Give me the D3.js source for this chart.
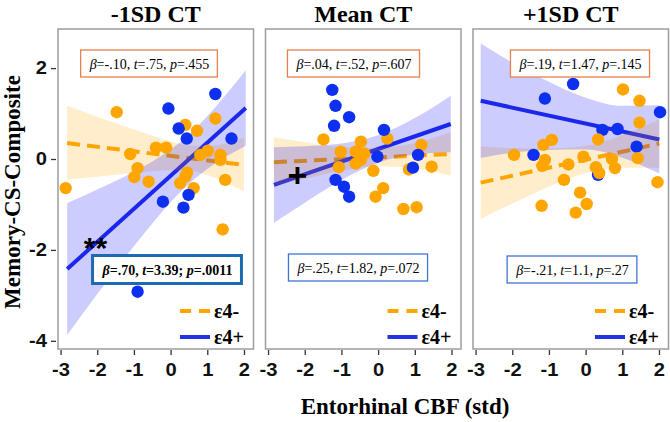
<!DOCTYPE html>
<html><head><meta charset="utf-8">
<script src="https://cdn.jsdelivr.net/npm/d3@7"></script>
<style>body{margin:0;background:#fff}svg{display:block}</style>
</head><body>
<svg id="c" width="670" height="422"></svg>
<script>
// ---------- DATA ----------
const panelTitles = ["-1SD CT", "Mean CT", "+1SD CT"];
const xTicks = [-3, -2, -1, 0, 1, 2];
const yTicks = [-4, -2, 0, 2];
const groups = ["ε4-", "ε4+"];

// points [x, y] per panel
const negPts1 = [[-1.47,1.03],[-2.86,-0.64],[-1.10,0.11],[-0.90,-0.20],[-0.99,-0.40],[-0.60,-0.50],[-0.40,0.25],[-0.12,0.25],[0.40,0.75],[0.72,0.62],[1.22,0.89],[0.81,0.09],[1.01,0.18],[1.36,0.09],[1.36,-0.02],[0.40,-0.39],[0.26,-0.53],[0.63,-0.64],[1.49,-0.46],[1.42,-1.55],[0.45,-0.30]];
const posPts1 = [[1.22,1.43],[-0.06,1.11],[0.22,0.67],[0.44,0.45],[1.66,0.45],[-0.21,-0.94],[0.49,-0.79],[0.35,-1.07],[-0.90,-2.92]];
const negPts2 = [[-1.49,0.43],[-1.02,0.16],[-1.07,-0.18],[-0.47,0.38],[-0.61,0.16],[-0.47,-0.02],[-0.61,-0.10],[0.25,0.45],[-0.13,-0.26],[1.18,0.31],[1.46,-0.17],[0.84,-0.23],[0.14,-0.64],[-0.07,-0.83],[0.69,-1.10],[1.05,-1.06],[-0.38,0.12]];
const posPts2 = [[-1.25,1.52],[-1.16,1.17],[-0.79,0.92],[-1.20,0.73],[0.16,0.64],[-0.02,0.05],[1.09,0.09],[0.95,-0.19],[-1.16,-0.46],[-0.93,-0.61],[-0.79,-0.83]];
const negPts3 = [[1.02,1.53],[1.47,1.28],[1.47,0.80],[0.34,0.43],[-0.92,0.42],[-1.15,0.31],[-1.95,0.09],[-1.11,-0.02],[-1.18,-0.15],[-0.47,-0.12],[-0.06,0.05],[0.28,-0.18],[0.37,-0.31],[0.72,0.00],[0.80,-0.20],[1.42,0.02],[-0.59,-0.46],[1.96,-0.51],[-0.15,-0.74],[0.03,-0.99],[-0.27,-1.18],[-1.20,-1.03]];
const posPts3 = [[-0.34,1.65],[-1.11,1.33],[2.03,1.03],[0.46,0.64],[0.87,0.66],[1.39,0.27],[-1.42,0.09],[0.34,-0.35]];

// fitted lines [[x0,y0],[x1,y1]]
const negLine = [[[-2.82,0.35],[2.0,-0.13]], [[-2.84,-0.07],[1.98,0.11]], [[-2.86,-0.52],[2.01,0.34]]];
const posLine = [[[-2.82,-2.42],[2.05,1.12]], [[-2.84,-0.57],[1.98,0.77]], [[-2.86,1.28],[2.01,0.43]]];

// confidence bands: [x, lo, hi]
const negBand1 = [[-2.82,-0.45,1.17],[-2,-0.39,0.93],[-1,-0.31,0.65],[0,-0.25,0.39],[0.4,-0.25,0.31],[1,-0.35,0.29],[2,-0.71,0.47]];
const posBand1 = [[-2.82,-3.87,-0.97],[-2,-2.97,-0.67],[-1,-1.92,-0.28],[0,-0.95,0.21],[0.4,-0.62,0.46],[1,-0.22,0.94],[2.05,0.29,1.95]];
const negBand2 = [[-2.84,-0.59,0.48],[-2,-0.44,0.37],[-1,-0.26,0.26],[0,-0.16,0.24],[1,-0.21,0.35],[1.98,-0.37,0.59]];
const posBand2 = [[-2.84,-1.40,0.26],[-2,-0.96,0.28],[-1,-0.46,0.34],[0,-0.08,0.52],[1,0.10,0.90],[1.98,0.15,1.39]];
const negBand3 = [[-2.86,-1.32,0.28],[-2,-0.98,0.24],[-1,-0.61,0.23],[0,-0.31,0.29],[1,-0.19,0.53],[2.01,-0.19,0.87]];
const posBand3 = [[-2.86,0.02,2.54],[-2,0.14,2.12],[-1,0.20,1.70],[0,0.21,1.35],[1,0.03,1.17],[2.01,-0.32,1.18]];

const negStats = ["β=-.10, t=.75, p=.455", "β=.04, t=.52, p=.607", "β=.19, t=1.47, p=.145"];
const posStats = ["β=.70, t=3.39; p=.0011", "β=.25, t=1.82, p=.072", "β=-.21, t=1.1, p=.27"];
const sigMarks = ["**", "+", ""];

const yTitle = "Memory-CS-Composite";
const xTitle = "Entorhinal CBF (std)";

// ---------- LAYOUT ----------
const svg = d3.select("#c");
const panelLeft = [58, 265.5, 473], panelW = 195.5, panelTop = 29, panelBottom = 349;
const ORANGE = "#FFA500", BLUE = "#0D2FF0", BLUELINE = "#2233E6";
const serif = "'Liberation Serif','Times New Roman',serif";
const sans = "'Liberation Sans',Arial,sans-serif";

const negPts = [negPts1, negPts2, negPts3], posPts = [posPts1, posPts2, posPts3];
const negBands = [negBand1, negBand2, negBand3], posBands = [posBand1, posBand2, posBand3];
const blueFirst = [false, false, true];
const negBoxCx = [149.5, 354, 580.5], posBoxCx = [167.5, 358.5, 572.5];
const posBoxCy = [269.5, 267.5, 269.5];
const sigPos = [[-2.05, -1.95, 30], [-2.2, -0.35, 34]];

function statText(g, str, cx, cy, bold, size) {
  const t = g.append("text").attr("x", cx).attr("y", cy).attr("text-anchor", "middle")
    .attr("dominant-baseline", "central")
    .style("font-family", serif).style("font-size", size + "px")
    .style("font-weight", bold ? "bold" : "normal");
  str.split(/([βtp](?==))/).forEach(tok => {
    if (!tok) return;
    const s = t.append("tspan").text(tok);
    if (/^[βtp]$/.test(tok)) s.style("font-style", "italic");
  });
  return t;
}

panelTitles.forEach((title, i) => {
  const L = panelLeft[i], R = L + panelW;
  const x = d3.scaleLinear().domain([-3.07, 2.26]).range([L, R]);
  const y = d3.scaleLinear().domain([-4.18, 2.86]).range([panelBottom, panelTop]);
  const g = svg.append("g");
  const clipId = "clip" + i;
  svg.append("clipPath").attr("id", clipId).append("rect")
    .attr("x", L).attr("y", panelTop).attr("width", panelW).attr("height", panelBottom - panelTop);

  g.append("rect").attr("x", L).attr("y", panelTop).attr("width", panelW).attr("height", panelBottom - panelTop)
    .attr("fill", "#fff");

  const pg = g.append("g").attr("clip-path", `url(#${clipId})`);
  const line = d3.line().x(d => x(d[0])).y(d => y(d[1]));
  pg.append("path").attr("d", line(negLine[i])).attr("stroke", ORANGE).attr("stroke-width", 4)
    .attr("stroke-dasharray", "13,7").attr("fill", "none");
  pg.append("path").attr("d", line(posLine[i])).attr("stroke", BLUELINE).attr("stroke-width", 4)
    .attr("fill", "none");
  const area = d3.area().x(d => x(d[0])).y0(d => y(d[1])).y1(d => y(d[2])).curve(d3.curveMonotoneX);
  pg.append("path").attr("d", area(negBands[i])).attr("fill", ORANGE).attr("fill-opacity", 0.2);
  pg.append("path").attr("d", area(posBands[i])).attr("fill", "#0000FF").attr("fill-opacity", 0.2);

  const drawPts = (pts, col) => pg.append("g").selectAll("circle").data(pts).join("circle")
    .attr("cx", d => x(d[0])).attr("cy", d => y(d[1])).attr("r", 6.2).attr("fill", col);
  if (blueFirst[i]) { drawPts(posPts[i], BLUE); drawPts(negPts[i], ORANGE); }
  else { drawPts(negPts[i], ORANGE); drawPts(posPts[i], BLUE); }

  // border
  g.append("rect").attr("x", L).attr("y", panelTop).attr("width", panelW).attr("height", panelBottom - panelTop)
    .attr("fill", "none").attr("stroke", "#9c9c9c").attr("stroke-width", 1.5);

  // stat boxes
  const ob = g.append("g");
  const ot = statText(ob, negStats[i], negBoxCx[i], 63.5, false, 14);
  const obb = ot.node().getBBox();
  ob.insert("rect", "text").attr("x", obb.x - 8).attr("y", 50).attr("width", obb.width + 16).attr("height", 27)
    .attr("fill", "#fff").attr("stroke", "#E8804A").attr("stroke-width", 1.3);

  const bb = g.append("g");
  const bt = statText(bb, posStats[i], posBoxCx[i], posBoxCy[i], i === 0, 14);
  const bbb = bt.node().getBBox();
  bb.insert("rect", "text").attr("x", bbb.x - (i === 0 ? 9 : 8)).attr("y", posBoxCy[i] - (i === 0 ? 14 : 13.5))
    .attr("width", bbb.width + (i === 0 ? 18 : 16)).attr("height", i === 0 ? 28 : 27)
    .attr("fill", "#fff").attr("stroke", i === 0 ? "#1D6AB4" : "#3F74D6").attr("stroke-width", i === 0 ? 3 : 1.3);

  // significance marks
  if (sigMarks[i]) {
    const sp = sigPos[i];
    g.append("text").attr("x", x(sp[0])).attr("y", y(sp[1])).attr("text-anchor", "middle")
      .attr("dominant-baseline", "central")
      .style("font-family", sans).style("font-weight", "bold").style("font-size", sp[2] + "px")
      .attr("fill", "#000").text(sigMarks[i]);
  }

  // legend
  const lg = g.append("g");
  [[311, ORANGE, true, groups[0]], [337, BLUELINE, false, groups[1]]].forEach(([ly, col, dash, lab]) => {
    lg.append("line").attr("x1", L + 122).attr("x2", L + 152).attr("y1", ly).attr("y2", ly)
      .attr("stroke", col).attr("stroke-width", 4).attr("stroke-dasharray", dash ? "11,8" : null);
    lg.append("text").attr("x", L + 156).attr("y", ly).attr("dominant-baseline", "central")
      .style("font-family", serif).style("font-weight", "bold").style("font-size", "20px").text(lab);
  });

  // x axis
  const xa = g.append("g").attr("transform", `translate(0,${panelBottom + 1})`)
    .call(d3.axisBottom(x).tickValues(xTicks).tickSize(5).tickPadding(8).tickFormat(d3.format("d")));
  xa.select(".domain").remove();
  xa.selectAll("line").attr("stroke", "#333").attr("stroke-width", 1.3);
  xa.selectAll("text").style("font-family", sans).style("font-weight", "bold").style("font-size", "18px")
    .attr("fill", "#111").attr("transform", "scale(1.12,1)").text(d => d < 0 ? "-" + Math.abs(d) : d);

  if (i === 0) {
    const ya = g.append("g").attr("transform", `translate(${L - 2},0)`)
      .call(d3.axisLeft(y).tickValues(yTicks).tickSize(5).tickPadding(3).tickFormat(d3.format("d")));
    ya.select(".domain").remove();
    ya.selectAll("line").attr("stroke", "#333").attr("stroke-width", 1.3);
    ya.selectAll("text").style("font-family", sans).style("font-weight", "bold").style("font-size", "18px")
      .attr("fill", "#111").attr("transform", "scale(1.12,1)").text(d => d < 0 ? "-" + Math.abs(d) : d);
  }

  // title
  svg.append("text").attr("x", (L + R) / 2).attr("y", 22).attr("text-anchor", "middle")
    .style("font-family", serif).style("font-weight", "bold").style("font-size", "24px").text(title);
});

svg.append("text").attr("transform", "translate(20,192) rotate(-90)").attr("text-anchor", "middle")
  .style("font-family", serif).style("font-weight", "bold").style("font-size", "23px").text(yTitle);
svg.append("text").attr("x", 405).attr("y", 414).attr("text-anchor", "middle")
  .style("font-family", serif).style("font-weight", "bold").style("font-size", "23px").text(xTitle);
</script>
</body></html>
